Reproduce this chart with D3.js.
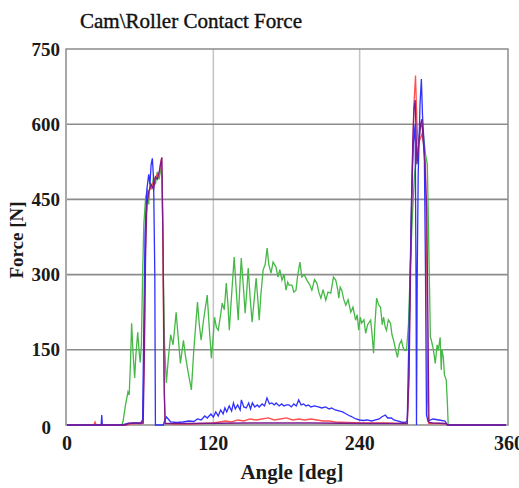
<!DOCTYPE html>
<html>
<head>
<meta charset="utf-8">
<script src="https://cdn.jsdelivr.net/npm/d3@7"></script>
<style>
  body { margin: 0; background: #fff; }
</style>
</head>
<body>
<div id="chart"></div>
<script>
// tick values
const xTicks = [0, 120, 240, 360];
const yTicks = [0, 150, 300, 450, 600, 750];

// series: [angle deg, force N]
const green = [[0,0],[45,0],[46,8],[48,40],[50,66],[51,60],[52,120],[53,203],[54,150],[55.5,94],[56.5,140],[58,185],[59,150],[60,125],[61,160],[62,300],[63,400],[64.5,455],[66,470],[67,440],[68,485],[69.5,470],[71,495],[72.5,480],[74,505],[75.5,490],[77,512],[78,495],[79,300],[80,160],[81.5,84],[83,130],[85,180],[87,160],[89.5,225],[91,180],[93,123],[95.5,169],[97,140],[99,110],[102,70],[104,150],[107,245],[108.5,200],[110,169],[112,210],[115,259],[116.5,200],[118.4,133],[120,180],[121,215],[122.5,195],[124,189],[126,220],[127.3,243],[129,230],[130.6,283],[132,240],[133.1,189],[135,260],[137.1,335],[138.5,280],[140.4,209],[142,290],[142.9,333],[144.5,280],[146.1,223],[147.5,270],[148.6,313],[150,260],[151.8,205],[153.5,250],[155.1,293],[156.5,250],[157.6,209],[159,260],[160.8,309],[162.5,320],[164.1,353],[165.5,320],[167.3,303],[169,325],[171.4,315],[173,295],[174.5,310],[176.3,289],[178,300],[179.6,269],[181,285],[182,279],[184.5,279],[186,265],[187.8,269],[189,295],[191,325],[192.6,295],[194.5,300],[196.7,289],[199,280],[200.8,269],[203,290],[204.9,283],[206.5,265],[208.2,253],[210,270],[212.2,249],[214,265],[216.3,263],[218.5,295],[220.4,289],[222,270],[222.9,253],[224,275],[225.3,269],[227,250],[228.6,239],[230.5,250],[232.7,225],[234.5,235],[236.7,209],[238,220],[239.2,189],[240.5,215],[241.6,203],[243.5,210],[244.9,183],[246.5,200],[249,209],[250.2,180],[251.4,143],[252.5,200],[253.9,253],[255.5,240],[257.1,235],[258.5,200],[259.6,215],[261,195],[262,189],[263.5,210],[265.3,203],[266.5,180],[267.8,169],[269.5,150],[271,135],[272.5,160],[274.3,169],[275.5,155],[276.7,149],[278.4,149],[280,200],[281.6,320],[283.5,430],[285,500],[286.5,530],[288,560],[289.5,590],[290.6,601],[292,585],[294,540],[295.5,520],[296.5,380],[298,175],[298.8,169],[300.5,150],[302,123],[303.5,160],[304.5,149],[306,175],[306.9,110],[307.5,150],[308.6,135],[309.5,100],[311,90],[312,40],[312.6,0],[360,0]];

const blue = [[0,0],[28,0],[28.5,20],[29,0],[45,0],[50,3],[55,4],[60,3],[62,10],[63,200],[64,380],[65.5,470],[67,500],[68,480],[69,520],[70,532],[71,490],[72,300],[72.5,0],[79,0],[80,8],[81.5,16],[83,12],[85,6],[90,5],[95,6],[100,8],[104,7],[107,12],[110,10],[113,18],[115,14],[118,22],[120,16],[122,26],[124,18],[126,30],[128,22],[129.5,34],[131,26],[133,38],[135,28],[136.5,44],[138,32],[140,40],[142,30],[143,50],[145,36],[147,34],[149,44],[150.5,32],[152,44],[154,36],[156,40],[157.6,36],[160,42],[162,38],[164,54],[166,42],[168,44],[170,40],[171.5,44],[174,38],[176,42],[178,38],[180,40],[182,40],[184,36],[186,42],[188,38],[190,50],[192,40],[194,42],[196,38],[198,40],[200,36],[203,38],[206,36],[209,34],[212,36],[215,32],[217,34],[220,30],[223,28],[226,26],[229,22],[232,18],[234,16],[237,12],[240,10],[243,9],[246,10],[250,8],[253,10],[256,12],[258,16],[261,20],[263,14],[266,14],[268,10],[271,8],[274,6],[277,5],[279,8],[281,250],[282.5,450],[284,560],[285.5,600],[286.2,300],[286.6,0],[287.2,300],[288,500],[289.5,640],[290.6,690],[291.5,620],[293,550],[294,300],[294.8,20],[296,8],[300,12],[305,10],[310,8],[312,0],[360,0]];

const red = [[0,0],[22,0],[23,6],[24,0],[48,0],[52,2],[58,3],[62,3],[63,100],[64,300],[65,420],[66.5,460],[68,470],[70,480],[72,490],[74,500],[75.5,495],[76.5,520],[77.5,532],[78.5,400],[79.5,100],[80.5,3],[90,2],[100,2],[110,3],[120,4],[125,6],[130,8],[135,6],[140,10],[145,8],[150,12],[155,10],[160,12],[165,14],[170,10],[175,12],[180,14],[185,10],[190,12],[195,10],[200,12],[205,10],[210,8],[215,8],[220,6],[230,5],[240,4],[250,4],[260,4],[270,3],[279,3],[280,60],[281.5,300],[283,500],[284.5,640],[285.8,697],[287,600],[288,560],[289.5,570],[291,580],[292.5,560],[294,520],[295,300],[295.7,50],[296.5,3],[305,3],[311,2],[312,0],[360,0]];

const purple = [[0,0],[48,0],[50,3],[55,4],[60,4],[62.5,4],[63.5,150],[64.5,350],[65.5,440],[67,465],[69,480],[71,470],[72.5,495],[74,490],[76,510],[77.8,534],[78.8,350],[79.8,60],[80.5,3],[100,3],[150,4],[200,4],[250,3],[279,3],[280.5,100],[282,350],[283.5,560],[284.5,630],[285.5,648],[287,520],[288.5,560],[290,600],[291,610],[292,570],[293.5,520],[295,430],[296,200],[296.8,5],[300,4],[311,3],[312,0],[360,0]];

const series = [
  { data: green, color: "#45b845" },
  { data: red, color: "#ff5050" },
  { data: blue, color: "#3030ff" },
  { data: purple, color: "#7a1a8c" }
];

const W = 519, H = 488;
const pLeft = 67, pRight = 506, pTop = 49, pBottom = 425;
const serif = "'Liberation Serif', 'Times New Roman', serif";

const svg = d3.select("#chart").append("svg")
  .attr("width", W).attr("height", H)
  .style("font-family", serif);

const x = d3.scaleLinear().domain([0, 360]).range([pLeft, pRight]);
const y = d3.scaleLinear().domain([0, 750]).range([pBottom, pTop]);

// grid
svg.append("g").selectAll("line")
  .data([120, 240])
  .join("line")
  .attr("x1", d => x(d)).attr("x2", d => x(d))
  .attr("y1", pTop).attr("y2", pBottom)
  .attr("stroke", "#c4c4c4").attr("stroke-width", 1.5);

svg.append("g").selectAll("line")
  .data([150, 300, 450, 600])
  .join("line")
  .attr("x1", pLeft).attr("x2", pRight + 2)
  .attr("y1", d => y(d)).attr("y2", d => y(d))
  .attr("stroke", "#8c8c8c").attr("stroke-width", 1.6);

// frame
svg.append("rect")
  .attr("x", pLeft - 1).attr("y", pTop)
  .attr("width", pRight + 3 - pLeft).attr("height", pBottom - pTop)
  .attr("fill", "none").attr("stroke", "#8c8c8c").attr("stroke-width", 1.5);

svg.append("clipPath").attr("id", "clip")
  .append("rect").attr("x", pLeft).attr("y", pTop - 20)
  .attr("width", pRight + 2 - pLeft).attr("height", pBottom - pTop + 21);

const line = d3.line().x(d => x(d[0])).y(d => y(d[1]));

svg.append("g").attr("clip-path", "url(#clip)")
  .selectAll("path")
  .data(series)
  .join("path")
  .attr("d", d => line(d.data))
  .attr("fill", "none")
  .attr("stroke", d => d.color)
  .attr("stroke-width", 1.3);

// axes labels
svg.append("g").selectAll("text")
  .data(yTicks)
  .join("text")
  .attr("x", d => d === 0 ? 51 : 60).attr("y", d => y(d) + (d === 0 ? 2 : 0))
  .attr("dy", "0.35em")
  .attr("text-anchor", "end")
  .attr("font-family", serif)
  .attr("font-size", 19)
  .attr("font-weight", "bold")
  .attr("fill", "#1a1a1a")
  .text(d => d);

svg.append("g").selectAll("text")
  .data(xTicks)
  .join("text")
  .attr("x", d => x(d) + (d === 360 ? 3 : 0)).attr("y", 450)
  .attr("text-anchor", "middle")
  .attr("font-family", serif)
  .attr("font-size", 20)
  .attr("font-weight", "bold")
  .attr("fill", "#1a1a1a")
  .text(d => d);

svg.append("text")
  .attr("x", 80).attr("y", 28)
  .attr("font-family", serif)
  .attr("font-size", 22)
  .attr("textLength", 222)
  .attr("lengthAdjust", "spacingAndGlyphs")
  .attr("fill", "#111")
  .attr("stroke", "#111").attr("stroke-width", 0.4)
  .text("Cam\\Roller Contact Force");

svg.append("text")
  .attr("x", 292).attr("y", 479)
  .attr("text-anchor", "middle")
  .attr("font-family", serif)
  .attr("font-size", 21)
  .attr("font-weight", "bold")
  .attr("fill", "#1a1a1a")
  .text("Angle [deg]");

svg.append("text")
  .attr("transform", "translate(23,240) rotate(-90)")
  .attr("text-anchor", "middle")
  .attr("font-family", serif)
  .attr("font-size", 19)
  .attr("font-weight", "bold")
  .attr("fill", "#1a1a1a")
  .text("Force [N]");
</script>
</body>
</html>
